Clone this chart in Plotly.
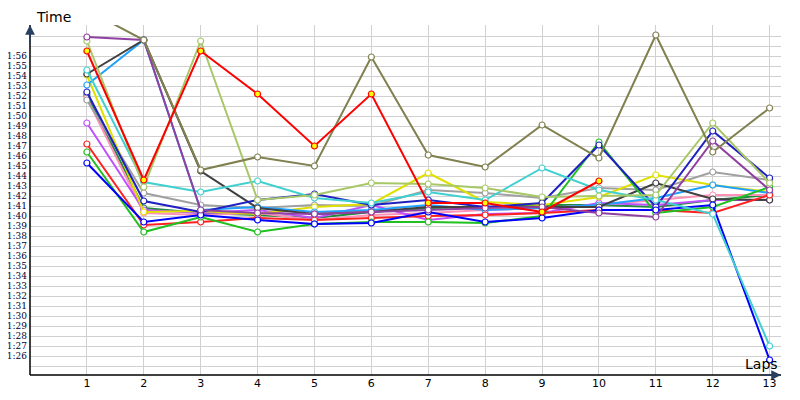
import plotly.graph_objects as go

laps = list(range(1, 14))

# lap times in seconds (1:00 = 60)
olive = [120.6, 117.6, 104.6, 105.9, 105.0, 115.9, 106.1, 104.9, 109.1, 105.8, 118.1, 106.4, 110.8]
purple = [117.9, 117.6, 100.6, 100.3, 100.2, 100.4, 100.6, 100.8, 100.9, 100.3, 99.9, 107.5, 102.6]
yellowgreen = [117.5, 102.9, 117.5, 101.6, 102.1, 103.3, 103.2, 102.8, 101.9, 102.0, 102.1, 109.3, 103.3]
red_yellow = [116.5, 103.6, 116.5, 112.2, 107.0, 112.2, 101.3, 101.3, 100.4, 103.5]
black = [114.2, 117.6, 104.5, 100.8, 100.2, 100.4, 100.9, 100.9, 100.9, 100.9, 103.3, 101.7, 101.6]
dodger = [113.1, 117.6, 100.6, 100.9, 100.4, 100.6, 101.1, 100.6, 100.8, 101.1, 101.8, 103.1, 102.3]
cyan = [114.6, 103.4, 102.4, 103.5, 101.8, 101.3, 102.4, 101.6, 104.8, 102.6, 101.6, 100.2, 87.0]
blue = [105.3, 99.4, 100.1, 99.6, 99.2, 99.3, 100.4, 99.4, 99.8, 100.6, 100.6, 101.1, 85.6]
navy = [112.4, 101.5, 100.4, 101.6, 102.2, 101.1, 101.6, 100.9, 101.3, 107.1, 100.9, 108.5, 103.8]
green = [106.4, 98.4, 99.9, 98.4, 99.2, 99.4, 99.4, 99.3, 100.0, 107.4, 100.3, 100.9, 102.9]
red = [107.2, 99.1, 99.4, 99.8, 99.6, 99.8, 100.0, 100.1, 100.3, 100.6, 100.6, 100.3, 102.1]
violet = [109.3, 100.6, 100.3, 100.6, 99.8, 101.1, 99.6, 100.2, 100.3, 101.3, 101.1, 101.6, 101.6]
pink = [111.8, 100.3, 100.1, 100.3, 99.6, 100.1, 100.3, 100.6, 100.8, 101.1, 101.6, 102.1, 102.1]
grey = [111.6, 102.3, 101.1, 100.8, 101.1, 101.0, 102.6, 102.3, 101.8, 102.8, 102.6, 104.4, 103.6]
yellow = [114.1, 100.4, 100.5, 100.2, 100.9, 101.2, 104.3, 101.4, 101.1, 101.9, 104.1, 103.1, 102.4]
darkgreen = [112.1, 100.8, 100.3, 100.1, 99.8, 100.4, 100.8, 100.9, 101.1, 101.1, 100.9, 101.6, 102.1]

series = [
    (darkgreen, "#208a40", "white"),
    (pink, "#ff90b8", "white"),
    (violet, "#c050ff", "white"),
    (grey, "#a0a0a0", "white"),
    (yellow, "#e0e000", "white"),
    (dodger, "#20a0ff", "white"),
    (black, "#404040", "white"),
    (red, "#ff2020", "white"),
    (green, "#20c020", "white"),
    (navy, "#2020c0", "white"),
    (blue, "#0000ff", "white"),
    (cyan, "#40d0d0", "white"),
    (yellowgreen, "#a8c868", "white"),
    (purple, "#9040a0", "white"),
    (olive, "#808050", "white"),
    (red_yellow, "#ff0000", "#ffff00"),
]

fig = go.Figure()
for vals, col, fill in series:
    fig.add_trace(go.Scatter(
        x=laps[:len(vals)], y=vals, mode="lines+markers",
        line=dict(color=col, width=2),
        marker=dict(symbol="circle", size=6, color=fill, line=dict(color=col, width=1.2)),
        showlegend=False))

tickvals = list(range(85, 120))
ticktext = ["1:%02d" % (v - 60) if 86 <= v <= 116 else "" for v in tickvals]

# page body has an 8px margin, so the margins are shifted to compensate
fig.update_layout(
    width=800, height=400,
    margin=dict(l=22, r=27, t=17, b=33),
    paper_bgcolor="white", plot_bgcolor="white",
    font=dict(family="DejaVu Sans", size=10, color="black"),
    xaxis=dict(range=[0, 13.2], tickvals=laps, showgrid=True, gridcolor="#d0d0d0",
               zeroline=False, showline=False, ticks="", automargin=False,
               tickfont=dict(size=11)),
    yaxis=dict(range=[84.1, 119.1], tickvals=tickvals, ticktext=ticktext,
               showgrid=True, gridcolor="#d0d0d0", zeroline=False, showline=False,
               ticks="", automargin=False, ticklabelstandoff=2,
               tickfont=dict(family="DejaVu Serif", size=9, color="#000030")),
)

# axes with arrows
fig.add_shape(type="line", xref="paper", yref="paper", x0=0, x1=0, y0=0, y1=1,
              line=dict(color="black", width=1.5))
fig.add_shape(type="line", xref="paper", yref="paper", x0=0, x1=1, y0=0, y1=0,
              line=dict(color="black", width=1.5))
fig.add_annotation(x=0, y=1, ax=0, ay=20, xref="paper", yref="paper",
                   showarrow=True, arrowhead=2, arrowsize=1.3, arrowwidth=1.5, text="")
fig.add_annotation(x=1, y=0, ax=-20, ay=0, xref="paper", yref="paper",
                   showarrow=True, arrowhead=2, arrowsize=1.3, arrowwidth=1.5, text="")
fig.add_annotation(x=0.0, y=1.0, xref="paper", yref="paper", text="Time", showarrow=False,
                   xanchor="left", yanchor="bottom", xshift=4, yshift=-2,
                   font=dict(size=14, color="black"))
fig.add_annotation(x=0.95, y=0.0, xref="paper", yref="paper", text="Laps", showarrow=False,
                   xanchor="left", yanchor="bottom", yshift=1, font=dict(size=14, color="black"))

fig.write_html("out.html")
